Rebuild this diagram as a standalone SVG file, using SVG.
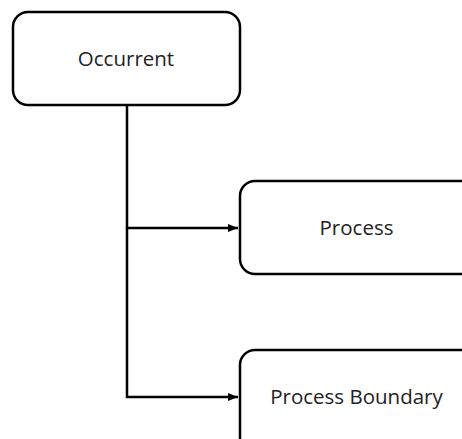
<svg xmlns="http://www.w3.org/2000/svg" width="462" height="439" viewBox="0 0 462 439">
<style>
.box{fill:#fff;stroke:#000;stroke-width:2.5}
.lbl{font-family:"Open Sans","Liberation Sans",sans-serif;font-size:20.5px;fill:#222;text-anchor:middle}
.conn{fill:none;stroke:#000;stroke-width:2.5}
</style>
<defs>
<marker id="arr" viewBox="0 0 10 10" refX="10" refY="5" markerWidth="4" markerHeight="4" orient="auto" markerUnits="strokeWidth">
<path d="M0,1 L10,5 L0,9 z" fill="#000"/>
</marker>
</defs>
<g id="connectors">
<path class="conn" d="M127,105 V228 H238" marker-end="url(#arr)"/>
<path class="conn" d="M127,228 V397 H238" marker-end="url(#arr)"/>
</g>
<g id="occurrent">
<rect class="box" x="13" y="12" width="227" height="93" rx="15"/>
<text class="lbl" x="126" y="66">Occurrent</text>
</g>
<g id="process">
<rect class="box" x="240" y="181" width="240" height="93" rx="15"/>
<text class="lbl" x="356.5" y="235">Process</text>
</g>
<g id="process-boundary">
<rect class="box" x="240" y="350" width="240" height="120" rx="15"/>
<text class="lbl" x="356.5" y="404">Process Boundary</text>
</g>
</svg>
